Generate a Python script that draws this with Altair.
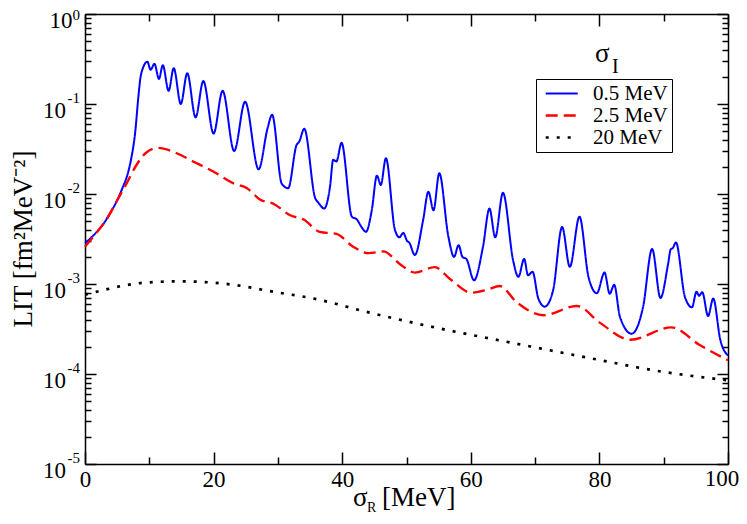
import altair as alt
import pandas as pd

# ---- data (x = sigma_R in MeV, y = LIT) ----
series_names = ["0.5 MeV", "2.5 MeV", "20 MeV"]
series_colors = ["#0000ff", "#ff0000", "#000000"]

blue_pts = [
    (0, 2.85e-3), (1, 3.3e-3), (2, 3.9e-3), (3, 4.8e-3), (3.9, 6.1e-3), (5, 8.5e-3),
    (6, 0.0125), (6.5, 0.0155), (7.2, 0.025), (7.8, 0.048), (8.3, 0.12), (8.6, 0.19),
    (9.0, 0.25), (9.7, 0.295), (10.2, 0.24), (10.8, 0.28), (11.5, 0.19), (12.1, 0.27),
    (13.0, 0.14), (13.8, 0.25), (14.9, 0.10), (15.9, 0.22), (17.2, 0.071), (18.4, 0.18),
    (20.0, 0.047), (21.4, 0.14), (23.2, 0.030), (24.9, 0.106), (27.0, 0.0188),
    (28.4, 0.054), (29.1, 0.076), (30.6, 0.013), (31.6, 0.0116), (32.9, 0.035),
    (33.3, 0.038), (34.1, 0.053), (35.8, 0.0090), (36.3, 0.0080), (37.2, 0.0069),
    (38.1, 0.012), (38.6, 0.024), (39.1, 0.023), (39.9, 0.037), (41.5, 0.0056),
    (42.3, 0.0052), (43.0, 0.0043), (43.7, 0.0038), (44.6, 0.0066), (45.4, 0.016),
    (46.0, 0.0126), (46.8, 0.025), (48.2, 0.0040), (48.9, 0.0033), (49.5, 0.0037),
    (50.1, 0.0030), (50.4, 0.0029), (51.3, 0.0021), (52.6, 0.0052), (53.4, 0.0106),
    (54.2, 0.0066), (55.1, 0.017), (56.5, 0.0034), (57.4, 0.0020), (58.1, 0.0027),
    (58.7, 0.0020), (59.3, 0.0019), (60.5, 0.0011), (61.9, 0.0026), (62.9, 0.0069),
    (63.8, 0.0033), (65.0, 0.0103), (66.6, 0.0018), (67.4, 0.0012), (68.3, 0.0019),
    (68.9, 0.00125), (69.6, 0.00137), (70.5, 6.9e-4), (71.5, 5.6e-4), (72.8, 8.5e-4),
    (74.2, 0.0043), (75.4, 0.00155), (76.9, 0.0056), (78.3, 0.0012), (79.6, 7.9e-4),
    (80.8, 0.00134), (81.6, 7.8e-4), (82.3, 9.8e-4), (83.2, 4.3e-4), (85.0, 2.8e-4),
    (86.8, 5.6e-4), (88.2, 0.00245), (89.5, 7.0e-4), (90.7, 0.0017), (91.1, 0.00244),
    (91.4, 0.0025), (91.9, 0.0029), (93.3, 7.2e-4), (94.4, 5.5e-4), (95.1, 8.2e-4),
    (95.5, 7.4e-4), (96.0, 8.1e-4), (96.9, 4.4e-4), (97.7, 6.9e-4), (98.8, 2.4e-4),
    (100, 1.6e-4),
]

red_pts = [
    (0, 2.6e-3), (1.5, 3.5e-3), (3.6, 5.6e-3), (5.0, 8.5e-3), (6.5, 0.0132),
    (8.0, 0.021), (9.7, 0.0295), (11.4, 0.0325), (13.7, 0.0295), (16.8, 0.023),
    (20.0, 0.0177), (23.1, 0.0131), (25.2, 0.0116), (27.2, 0.0087), (29.3, 0.0078),
    (31.9, 0.0058), (34.0, 0.0052), (36.5, 0.0038), (39.1, 0.0036), (41.7, 0.0026),
    (44.1, 0.0022), (46.4, 0.0023), (49.0, 0.00166), (51.3, 0.00134), (54.4, 0.00154),
    (56.8, 0.00113), (60.1, 8.0e-4), (62.5, 8.6e-4), (64.5, 9.5e-4), (67.1, 6.3e-4),
    (71.3, 4.5e-4), (76.5, 5.7e-4), (80.1, 3.7e-4), (84.8, 2.4e-4), (91.2, 3.3e-4),
    (95.6, 2.1e-4), (100, 1.42e-4),
]

black_pts = [
    (0, 7.6e-4), (3.0, 8.6e-4), (6.0, 9.6e-4), (9.0, 1.03e-3), (14.9, 1.07e-3),
    (18.7, 1.05e-3), (23.1, 9.8e-4), (29.3, 8.2e-4), (35.5, 6.9e-4), (44.3, 4.8e-4),
    (55.2, 3.2e-4), (65.3, 2.3e-4), (79.6, 1.45e-4), (88.4, 1.1e-4), (100, 8.5e-5),
]

x_major = [0, 20, 40, 60, 80, 100]
x_minor = [10, 30, 50, 70, 90]
y_major = [1, 1e-1, 1e-2, 1e-3, 1e-4, 1e-5]
y_exp = ["0", "-1", "-2", "-3", "-4", "-5"]
y_minor = [k * d for d in [1e-1, 1e-2, 1e-3, 1e-4, 1e-5] for k in range(2, 10)]

rows = []
for name, pts in zip(series_names, [blue_pts, red_pts, black_pts]):
    for a, b in pts:
        rows.append({"series": name, "x": a, "y": b})
df = pd.DataFrame(rows)

W, H = 643, 450
FONT = "Liberation Serif"
xscale = alt.Scale(domain=[0, 100], nice=False, zero=False)
yscale = alt.Scale(type="log", domain=[1e-5, 1], nice=False)


def tick_axis(orient, offset, values, size, domain):
    return alt.Axis(orient=orient, offset=offset, values=values, tickSize=size,
                    labels=False, domain=domain, grid=False, ticks=True,
                    tickColor="black", tickWidth=1.5, domainColor="black",
                    domainWidth=1.5, title=None)


x_label_axis = alt.Axis(orient="bottom", values=x_major[:-1], ticks=False, domain=False,
                        grid=False, labelFont=FONT, labelFontSize=23,
                        labelColor="black", labelPadding=4, labelFlush=False,
                        labelBaseline="top", title=None)

legend = alt.Legend(orient="none", legendX=451, legendY=65)

lines = alt.Chart(df).mark_line(interpolate="monotone", strokeCap="butt").encode(
    x=alt.X("x:Q", scale=xscale, axis=x_label_axis),
    y=alt.Y("y:Q", scale=yscale, axis=tick_axis("right", -W, y_major, 11, True)),
    color=alt.Color("series:N", scale=alt.Scale(domain=series_names, range=series_colors),
                    legend=legend, title=None),
    strokeDash=alt.StrokeDash("series:N",
                              scale=alt.Scale(domain=series_names,
                                              range=[[1, 0], [12, 6], [3, 8]]),
                              legend=legend, title=None),
    strokeWidth=alt.StrokeWidth("series:N",
                                scale=alt.Scale(domain=series_names, range=[2, 2.7, 3]),
                                legend=None),
)


def ghost(xaxis, yaxis):
    return alt.Chart(df).mark_point(opacity=0, size=1).encode(
        x=alt.X("x:Q", scale=xscale, axis=xaxis),
        y=alt.Y("y:Q", scale=yscale, axis=yaxis),
    )


g1 = ghost(tick_axis("top", -H, x_major, 12, True), tick_axis("right", -W, y_minor, 6, False))
g2 = ghost(tick_axis("top", -H, x_minor, 7, False), tick_axis("left", -W, y_major, 11, True))
g3 = ghost(tick_axis("bottom", -H, x_major, 12, True), tick_axis("left", -W, y_minor, 6, False))
g4 = ghost(tick_axis("bottom", -H, x_minor, 7, False), None)

# last x tick label, nudged left so it stays inside the page
xlab_last = alt.Chart(pd.DataFrame({"v": x_major[-1:], "t": ["100"]})).mark_text(
    align="center", baseline="top", dx=-6, font=FONT, fontSize=23, color="black"
).encode(x=alt.X("v:Q", scale=xscale, axis=None), y=alt.value(H + 4), text="t:N")

ylab = pd.DataFrame({"v": y_major, "base": ["10"] * len(y_major), "exp": y_exp})

base0 = alt.Chart(ylab).transform_filter("datum.v >= 0.5").mark_text(
    align="right", baseline="alphabetic", dy=13.5, font=FONT, fontSize=23, color="black"
).encode(x=alt.value(-12.5), y=alt.Y("v:Q", scale=yscale, axis=None), text="base:N")

baseN = alt.Chart(ylab).transform_filter("datum.v < 0.5").mark_text(
    align="right", baseline="alphabetic", dy=13.5, font=FONT, fontSize=23, color="black"
).encode(x=alt.value(-19), y=alt.Y("v:Q", scale=yscale, axis=None), text="base:N")

exp0 = alt.Chart(ylab).transform_filter("datum.v >= 0.5").mark_text(
    align="right", baseline="alphabetic", dy=5.5, font=FONT, fontSize=15, color="black"
).encode(x=alt.value(-5), y=alt.Y("v:Q", scale=yscale, axis=None), text="exp:N")

expN = alt.Chart(ylab).transform_filter("datum.v < 0.5").mark_text(
    align="right", baseline="alphabetic", dy=-1.5, font=FONT, fontSize=15, color="black"
).encode(x=alt.value(-5), y=alt.Y("v:Q", scale=yscale, axis=None), text="exp:N")


def label(text, x, y, size, **kw):
    props = dict(font=FONT, fontSize=size, align="left", baseline="alphabetic", color="black")
    props.update(kw)
    return alt.Chart(pd.DataFrame({"t": [text]})).mark_text(**props).encode(
        x=alt.value(x), y=alt.value(y), text="t:N")


t_sig = label("σ", 268, 492, 27)
t_R = label("R", 282, 497.5, 14)
t_mev = label("[MeV]", 297, 492, 27)
t_ytitle = label("LIT [fm²MeV⁻²]", -53, 225, 27, angle=270, align="center")
t_lsig = label("σ", 510, 48, 27)
t_lI = label("I", 527, 59, 20)

chart = alt.layer(
    lines, g1, g2, g3, g4, xlab_last, base0, baseN, exp0, expN,
    t_sig, t_R, t_mev, t_ytitle, t_lsig, t_lI
).resolve_axis(x="independent", y="independent").properties(
    width=W, height=H,
    autosize=alt.AutoSizeParams(type="none"),
    padding={"left": 77, "top": 6, "right": 11, "bottom": 52},
    background="white",
).configure_view(strokeWidth=0).configure_legend(
    strokeColor="black", fillColor="white", padding=4, labelFont=FONT,
    labelFontSize=21, labelColor="black", labelOffset=32,
    symbolType="M-0.6,0H3.4", symbolSize=256, symbolStrokeWidth=2.5, rowPadding=0,
)

chart.save("out.html", embed_options={"renderer": "svg", "actions": False})
